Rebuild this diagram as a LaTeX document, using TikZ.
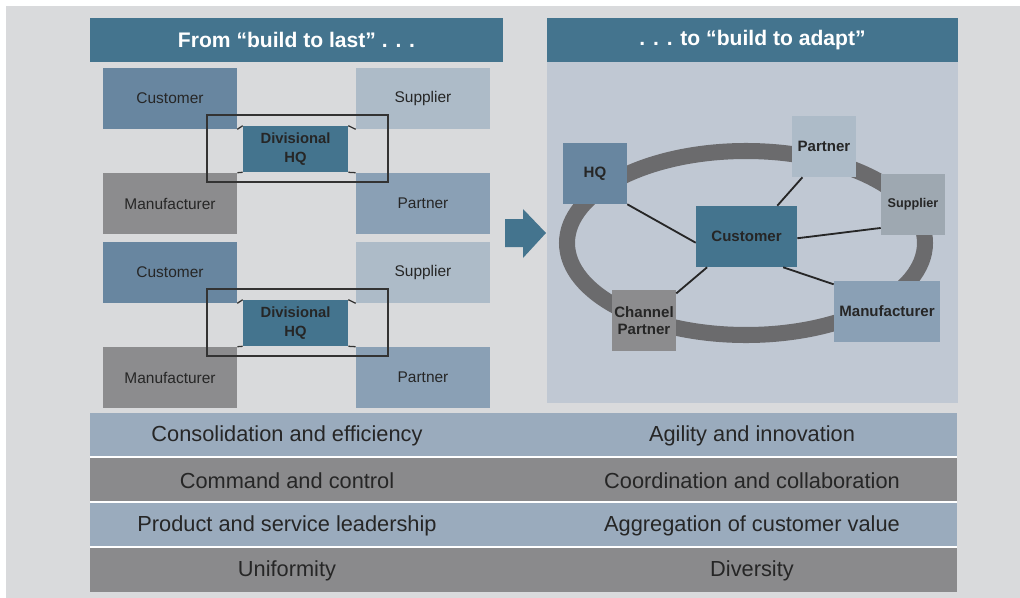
\documentclass[tikz,border=0pt]{standalone}
\usepackage{fontspec}
\setmainfont{Liberation Sans}
\usepackage{xcolor}
\definecolor{dfbackgray}{RGB}{217,218,220}
\definecolor{dfheadblue}{RGB}{68,116,142}
\definecolor{dfpanel}{RGB}{192,200,211}
\definecolor{dfcustblue}{RGB}{104,134,160}
\definecolor{dfsuppblue}{RGB}{173,187,200}
\definecolor{dfmanugray}{RGB}{140,140,142}
\definecolor{dfpartblue}{RGB}{138,160,181}
\definecolor{dfsuppgray}{RGB}{158,168,177}
\definecolor{dfring}{RGB}{107,107,109}
\definecolor{dfrowblue}{RGB}{154,171,189}
\definecolor{dfrowgray}{RGB}{138,138,140}
\definecolor{dftext}{RGB}{38,38,38}
\tikzstyle{link} = [line width=1.3pt, color=black!85]

\begin{document}
\begin{tikzpicture}[x=0.025cm, y=-0.025cm,
    header/.style={rectangle, inner sep=0pt, fill=dfheadblue, minimum height=1.1cm, text=white, font=\bfseries\fontsize{15}{18}\selectfont},
    tile/.style={rectangle, inner sep=0pt, minimum width=3.35cm, minimum height=1.525cm, text=dftext, font=\fontsize{11}{13}\selectfont},
    divhq/.style={rectangle, inner sep=0pt, fill=dfheadblue, minimum width=2.625cm, minimum height=1.15cm, align=center, text=dftext, font=\bfseries\fontsize{10.5}{13}\selectfont},
    unit/.style={rectangle, inner sep=0pt, minimum width=1.6cm, minimum height=1.525cm, align=center, text=dftext, font=\bfseries\fontsize{10.7}{12.5}\selectfont},
    band/.style={rectangle, inner sep=0pt, minimum width=21.675cm, minimum height=1.075cm},
    trait/.style={text=dftext, font=\fontsize{15.5}{18}\selectfont},
    hqframe/.style={draw=black!80, line width=0.9pt}]

% Page
\useasboundingbox (0,0) rectangle (1020,598);
\fill[dfbackgray] (6,6) rectangle (1020,598);

% Headings
\node[header, minimum width=10.325cm] (lasthead) at (296.5,40) {From “build to last” . . .};
\node[rectangle, inner sep=0pt, fill=dfpanel, minimum width=10.275cm, minimum height=8.525cm] (adaptpanel) at (752.5,232.5) {};
\node[header, minimum width=10.275cm] (adapthead) at (752.5,40) {. . . to “build to adapt”};

% Big arrow
\fill[dfheadblue] (505,219) -- (523,219) -- (523,209) -- (546,233) -- (523,258) -- (523,247) -- (505,247) -- cycle;

% First division
\node[tile, fill=dfcustblue] (cust1) at (170,98.5) {Customer};
\node[tile, fill=dfsuppblue] (supp1) at (423,98.5) {Supplier};
\node[tile, fill=dfmanugray] (manu1) at (170,203.5) {Manufacturer};
\node[tile, fill=dfpartblue] (part1) at (423,203.5) {Partner};
\node[divhq] (hq1) at (295.5,149) {Divisional\\HQ};
\draw[hqframe] (207,115) rectangle (388,182);
\draw[hqframe] (hq1.north west) -- (cust1.south east);
\draw[hqframe] (hq1.north east) -- (supp1.south west);
\draw[hqframe] (hq1.south west) -- (manu1.north east);
\draw[hqframe] (hq1.south east) -- (part1.north west);

% Second division
\node[tile, fill=dfcustblue] (cust2) at (170,272.5) {Customer};
\node[tile, fill=dfsuppblue] (supp2) at (423,272.5) {Supplier};
\node[tile, fill=dfmanugray] (manu2) at (170,377.5) {Manufacturer};
\node[tile, fill=dfpartblue] (part2) at (423,377.5) {Partner};
\node[divhq] (hq2) at (295.5,323) {Divisional\\HQ};
\draw[hqframe] (207,289) rectangle (388,356);
\draw[hqframe] (hq2.north west) -- (cust2.south east);
\draw[hqframe] (hq2.north east) -- (supp2.south west);
\draw[hqframe] (hq2.south west) -- (manu2.north east);
\draw[hqframe] (hq2.south east) -- (part2.north west);

% Network ring
\draw[dfring, line width=11.4pt] (746,243) ellipse [x radius=179, y radius=92];

\node[unit, fill=dfcustblue] (rhq) at (595,173.5) {HQ};
\node[unit, fill=dfsuppblue] (rpart) at (824,146.5) {Partner};
\node[unit, fill=dfsuppgray, font=\bfseries\fontsize{9}{11}\selectfont] (rsupp) at (913,204.5) {Supplier};
\node[unit, fill=dfheadblue, minimum width=2.525cm] (rcust) at (746.5,236.5) {Customer};
\node[unit, fill=dfmanugray] (rchan) at (644,320.5) {Channel\\Partner};
\node[unit, fill=dfpartblue, minimum width=2.65cm] (rmanu) at (887,311.5) {Manufacturer};

\draw[link] (rhq.south east) -- (rcust.187);
\draw[link] (rpart.235) -- (rcust.45);
\draw[link] (rsupp.216) -- (rcust.-2);
\draw[link] (rcust.218) -- (rchan.40);
\draw[link] (rcust.320) -- (rmanu.153);

% Comparison rows
\fill[white] (90,456) rectangle (957,548);
\node[band, fill=dfrowblue] (band1) at (523.5,434.5) {};
\node[band, fill=dfrowgray] (band2) at (523.5,479.5) {};
\node[band, fill=dfrowblue] (band3) at (523.5,524.5) {};
\node[band, fill=dfrowgray, minimum height=1.1cm] (band4) at (523.5,570) {};

\node[trait] (lastone) at (287,436) {Consolidation and efficiency};
\node[trait] (adaptone) at (752,436) {Agility and innovation};
\node[trait] (lasttwo) at (287,481) {Command and control};
\node[trait] (adapttwo) at (752,481) {Coordination and collaboration};
\node[trait] (lastthree) at (287,526) {Product and service leadership};
\node[trait] (adaptthree) at (752,526) {Aggregation of customer value};
\node[trait] (lastfour) at (287,571) {Uniformity};
\node[trait] (adaptfour) at (752,571) {Diversity};
\end{tikzpicture}
\end{document}
